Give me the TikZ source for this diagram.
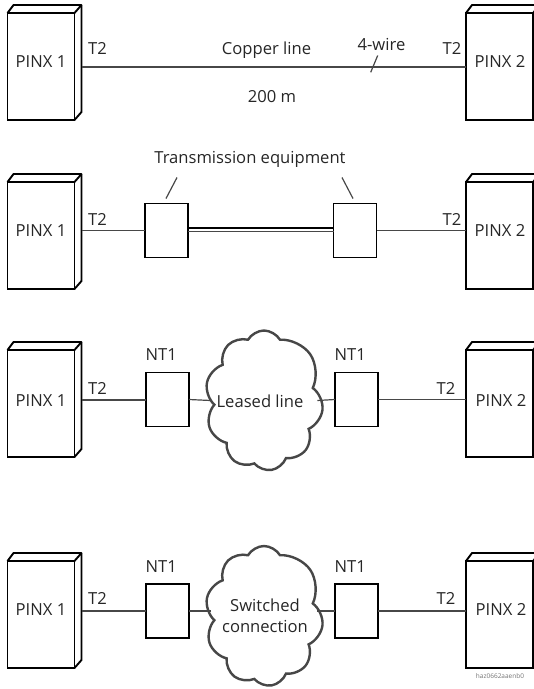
\documentclass[tikz,border=0pt]{standalone}
\usepackage{fontspec}
\setmainfont{Open Sans}
\usetikzlibrary{shapes.symbols}
\begin{document}
\begin{tikzpicture}[x=1pt,y=-1pt,
  font=\fontsize{16.6}{19}\selectfont,
  pinxbox/.style={draw=black, line width=1.9pt, minimum width=67pt, minimum height=107pt, inner sep=0pt, outer sep=0pt, anchor=north west},
  pinxside/.style={draw=black, line width=1.9pt, line join=round},
  ntbox/.style={draw=black, line width=1.9pt, minimum width=43pt, minimum height=54pt, inner sep=0pt, outer sep=0pt},
  wire/.style={draw=black!72, line width=1.2pt},
  lbl/.style={anchor=base, inner sep=0pt, text=black!85},
  lblw/.style={anchor=base west, inner sep=0pt, text=black!85},
  netcloud/.style={cloud, cloud puffs=9.6, cloud puff arc=120, cloud ignores aspect, draw=black!72, line width=2.4pt, minimum width=118pt, minimum height=140pt, inner sep=0pt, outer sep=0pt, align=center, text=black!85}]
\useasboundingbox (0,0) rectangle (534,689);

% ---------- Row 1 ----------
\node[pinxbox] (pa1) at (7.5,13) {};
\node[pinxbox] (pb1) at (466,13) {};
\foreach \p in {pa1,pb1}{
  \draw[pinxside] (\p.north west) -- ++(6,-8) -- ++(68,0) -- ++(0,107) -- ++(-7,8);
  \draw[pinxside] (\p.north east) -- ++(7,-8);
}
\node[lbl] (la1) at (41,67) {PINX 1};
\node[lbl] (lb1) at (500,67) {PINX 2};
\coordinate (a1) at (81.5,67);
\draw[wire] (a1) -- (a1 -| pb1.west);
\node[lbl] (t2a1) at (97.5,54) {T2};
\node[lbl] (t2b1) at (452,54) {T2};
\node[lbl] (cu) at (266.5,54.5) {Copper line};
\node[lbl] (len) at (272,102) {200 m};
\node[lbl] (fw) at (381.5,50) {4-wire};
\coordinate (s1) at (370.7,72.3);
\coordinate (s2) at (377.7,55.5);
\draw[wire] (s1) -- (s2);

% ---------- Row 2 ----------
\node[pinxbox] (pa2) at (7.5,182) {};
\node[pinxbox] (pb2) at (466,182) {};
\foreach \p in {pa2,pb2}{
  \draw[pinxside] (\p.north west) -- ++(6,-8) -- ++(68,0) -- ++(0,107) -- ++(-7,8);
  \draw[pinxside] (\p.north east) -- ++(7,-8);
}
\node[lbl] (la2) at (41,236) {PINX 1};
\node[lbl] (lb2) at (500,236) {PINX 2};
\node[ntbox] (te1) at (166.5,230.5) {};
\node[ntbox] (te2) at (355,230.5) {};
\coordinate (a2) at (81.5,230.5);
\draw[wire] (a2) -- (te1.west);
\draw[wire, draw=black] ([yshift=2.6pt]te1.east) -- ([yshift=2.6pt]te2.west);
\draw[wire] ([yshift=-0.8pt]te1.east) -- ([yshift=-0.8pt]te2.west);
\draw[wire] (te2.east) -- (te2.east -| pb2.west);
\node[lbl] (t2a2) at (97.5,225) {T2};
\node[lbl] (t2b2) at (452,225) {T2};
\node[lbl] (teq) at (250,163.5) {Transmission equipment};
\draw[wire] ([xshift=-0.5pt,yshift=5pt]te1.north) -- ++(11,-21);
\draw[wire] ([xshift=-2pt,yshift=5pt]te2.north) -- ++(-11,-21);

% ---------- Row 3 ----------
\node[pinxbox] (pa3) at (7.5,350) {};
\node[pinxbox] (pb3) at (466,350) {};
\foreach \p in {pa3,pb3}{
  \draw[pinxside] (\p.north west) -- ++(6,-8) -- ++(68,0) -- ++(0,107) -- ++(-7,8);
  \draw[pinxside] (\p.north east) -- ++(7,-8);
}
\node[lbl] (la3) at (41,406) {PINX 1};
\node[lbl] (lb3) at (501,406) {PINX 2};
\node[ntbox] (na3) at (167.5,399.5) {};
\node[ntbox] (nb3) at (356.5,399.5) {};
\node[netcloud] (c3) at (264,400.5) {};
\node[lbl] (ll) at (260,407) {Leased line};
\coordinate (a3) at (81.5,400);
\draw[wire] (a3) -- (a3 -| na3.west);
\draw[wire] (na3.east) -- (c3.west);
\draw[wire] (c3.east) -- (nb3.west);
\draw[wire] (nb3.east) -- (nb3.east -| pb3.west);
\node[lbl] (t2a3) at (97.5,394) {T2};
\node[lbl] (t2b3) at (446,394) {T2};
\node[lblw] (nta3) at (145.5,360) {NT1};
\node[lblw] (ntb3) at (334.5,360) {NT1};

% ---------- Row 4 ----------
\node[pinxbox] (pa4) at (7.5,561) {};
\node[pinxbox] (pb4) at (466,561) {};
\foreach \p in {pa4,pb4}{
  \draw[pinxside] (\p.north west) -- ++(6,-8) -- ++(68,0) -- ++(0,107) -- ++(-7,8);
  \draw[pinxside] (\p.north east) -- ++(7,-8);
}
\node[lbl] (la4) at (41,615) {PINX 1};
\node[lbl] (lb4) at (501,615) {PINX 2};
\node[ntbox] (na4) at (167.5,611) {};
\node[ntbox] (nb4) at (356.5,611) {};
\node[netcloud] (c4) at (264,616) {};
\node[lbl] (sw1) at (265,611) {Switched};
\node[lbl] (sw2) at (265,632) {connection};
\coordinate (a4) at (81.5,611);
\draw[wire] (a4) -- (a4 -| na4.west);
\draw[wire] (na4.east) -- (c4.west |- na4.east);
\draw[wire] (c4.east |- nb4.west) -- (nb4.west);
\draw[wire] (nb4.east) -- (nb4.east -| pb4.west);
\node[lbl] (t2a4) at (97.5,604) {T2};
\node[lbl] (t2b4) at (446,604) {T2};
\node[lblw] (nta4) at (145.5,572) {NT1};
\node[lblw] (ntb4) at (334.5,572) {NT1};

\node[lbl, font=\fontsize{6.5}{7}\selectfont, text=black!55] (code) at (500,678) {haz0662aaenb0};
\end{tikzpicture}
\end{document}
